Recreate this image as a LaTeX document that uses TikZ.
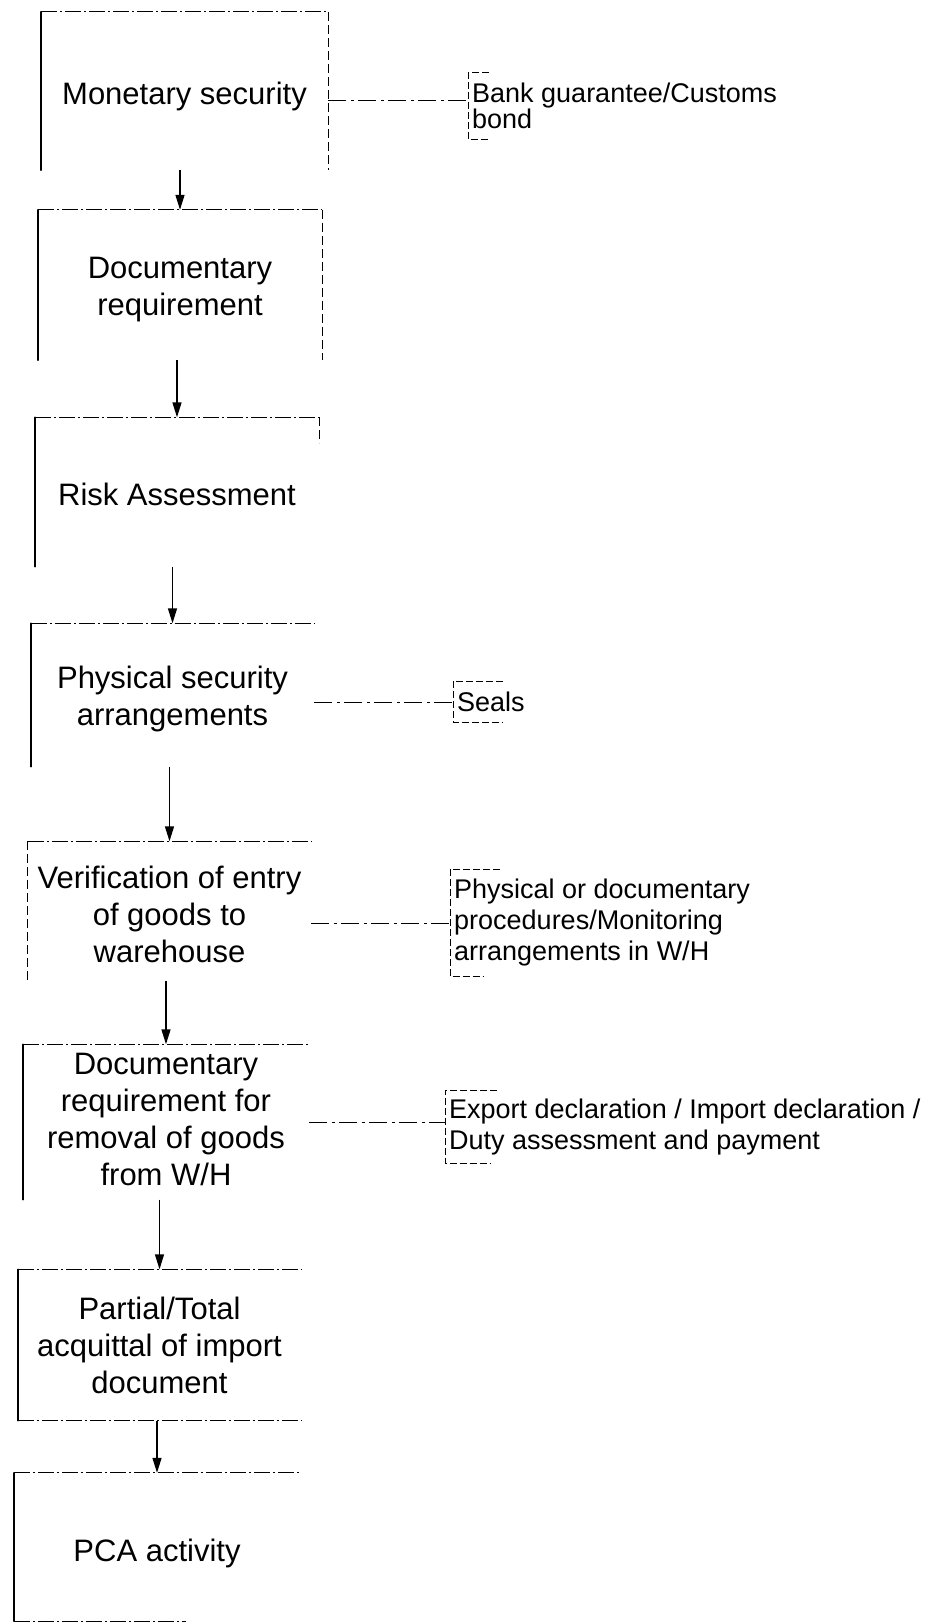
\documentclass[tikz,border=0pt]{standalone}
\usepackage{fontspec}
\setmainfont{Liberation Sans}
\usetikzlibrary{arrows.meta}
\begin{document}
\begin{tikzpicture}[x=1pt,y=-1pt,
  stepbox/.style={rectangle, inner sep=0pt},
  steptext/.style={inner sep=0pt, align=center, font=\fontsize{31}{37}\selectfont},
  note/.style={rectangle, anchor=west, inner xsep=4pt, inner ysep=0pt, align=left, font=\fontsize{27}{31}\selectfont},
  leftedge/.style={line width=1.5pt, line cap=round},
  topedge/.style={line width=1.1pt, dash pattern=on 16pt off 3pt on 2pt off 3pt},
  rightedge/.style={line width=1pt, dash pattern=on 9pt off 4pt},
  link/.style={line width=1pt, dash pattern=on 18pt off 5pt on 3pt off 4pt},
  bracket/.style={line width=1pt, dash pattern=on 7pt off 3pt},
  flow/.style={line width=1.4pt, -{Triangle[length=15pt,width=9pt]}}
]
\useasboundingbox (0,0) rectangle (933,1624);

% frames of the main sequence of steps
\node[stepbox, minimum width=287, minimum height=158] (b1) at (184.5,91) {};
\node[stepbox, minimum width=284, minimum height=150] (b2) at (180,285) {};
\node[stepbox, minimum width=284, minimum height=149] (b3) at (177,492) {};
\node[stepbox, minimum width=283, minimum height=143] (b4) at (172.5,695) {};
\node[stepbox, minimum width=283, minimum height=139] (b5) at (169.5,911) {};
\node[stepbox, minimum width=286, minimum height=155] (b6) at (166,1122) {};
\node[stepbox, minimum width=283, minimum height=151] (b7) at (159.5,1345) {};
\node[stepbox, minimum width=286, minimum height=148] (b8) at (157,1547) {};

% step captions
\node[steptext] (t1) at ([yshift=-5pt]b1.center) {Monetary security};
\node[steptext] (t2) at ([yshift=-5pt]b2.center) {Documentary\\requirement};
\node[steptext] (t3) at ([yshift=-2pt]b3.center) {Risk Assessment};
\node[steptext] (t4) at ([yshift=-4pt]b4.center) {Physical security\\arrangements};
\node[steptext] (t5) at ([yshift=-3pt]b5.center) {Verification of entry\\of goods to\\warehouse};
\node[steptext] (t6) at ([yshift=3pt]b6.center) {Documentary\\requirement for\\removal of goods\\from W/H};
\node[steptext] (t7) at (b7.center) {Partial/Total\\acquittal of import\\document};
\node[steptext] (t8) at ([yshift=-6pt]b8.center) {PCA activity};

% box outlines: solid left side, dash-dot top
\foreach \b in {b1,b2,b3,b4,b6,b7,b8}{
  \draw[leftedge] (\b.north west) -- (\b.south west);
}
\draw[rightedge, line width=1.2pt] (b5.north west) -- (b5.south west);
\foreach \b in {b1,b2,b3,b4,b5,b6,b7,b8}{
  \draw[topedge] (\b.north west) -- (\b.north east);
}
\draw[rightedge] (b1.north east) -- (b1.south east);
\draw[rightedge] (b2.north east) -- (b2.south east);
\draw[rightedge] (b3.north east) -- ([yshift=-26pt]b3.north east);
\draw[topedge] (b7.south west) -- (b7.south east);
\draw[topedge] (b8.south west) -- ([xshift=172pt]b8.south west);

% flow arrows
\draw[flow] (b1.south -| b2.north) -- (b2.north);
\draw[flow] (b2.south -| b3.north) -- (b3.north);
\draw[flow] (b3.south -| b4.north) -- (b4.north);
\draw[flow] (b4.south -| b5.north) -- (b5.north);
\draw[flow] (b5.south -| b6.north) -- (b6.north);
\draw[flow] (b6.south -| b7.north) -- (b7.north);
\draw[flow] (b7.south -| b8.north) -- (b8.north);

% side notes
\node[note, minimum height=66, font=\fontsize{27}{25}\selectfont] (s1) at (468,106) {Bank guarantee/Customs\\bond};
\node[note, minimum height=41] (s2) at (453,702) {Seals};
\node[note, minimum height=107] (s3) at (450,923) {Physical or documentary\\procedures/Monitoring\\arrangements in W/H};
\node[note, minimum height=73] (s4) at (445,1127) {Export declaration / Import declaration /\\Duty assessment and payment};

\draw[bracket] ([xshift=21pt]s1.north west) -- (s1.north west) -- (s1.south west) -- ([xshift=22pt]s1.south west);
\draw[bracket] ([xshift=50pt]s2.north west) -- (s2.north west) -- (s2.south west) -- ([xshift=50pt]s2.south west);
\draw[bracket] ([xshift=50pt]s3.north west) -- (s3.north west) -- (s3.south west) -- ([xshift=33pt]s3.south west);
\draw[bracket] ([xshift=52pt]s4.north west) -- (s4.north west) -- (s4.south west) -- ([xshift=46pt]s4.south west);

% links from steps to notes
\draw[link] ([yshift=5pt]b1.east |- s1.west) -- ([yshift=5pt]s1.west);
\draw[link] (b4.east |- s2.west) -- (s2.west);
\draw[link] (b5.east |- s3.west) -- (s3.west);
\draw[link] ([yshift=5pt]b6.east |- s4.west) -- ([yshift=5pt]s4.west);
\end{tikzpicture}
\end{document}
